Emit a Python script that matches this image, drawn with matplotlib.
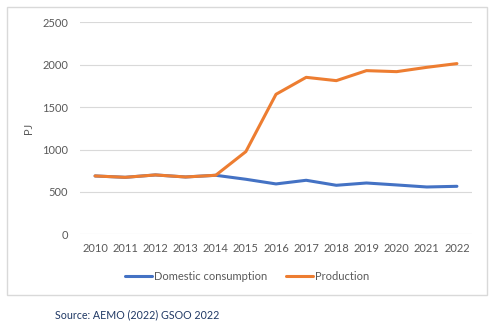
import matplotlib.pyplot as plt
from matplotlib.patches import Rectangle

years = [2010, 2011, 2012, 2013, 2014, 2015, 2016, 2017, 2018, 2019, 2020, 2021, 2022]
domestic = [688, 672, 700, 676, 696, 649, 594, 637, 578, 605, 582, 558, 566]
production = [688, 672, 700, 676, 696, 975, 1651, 1851, 1812, 1930, 1918, 1969, 2013]
yticks = [0, 500, 1000, 1500, 2000, 2500]

plt.rcParams['font.family'] = ['Lato', 'DejaVu Sans']

W, H = 491, 324
fig = plt.figure(figsize=(W / 100, H / 100), dpi=100)
ax = fig.add_axes([80 / W, 1 - 234.3 / H, (472 - 80) / W, (234.3 - 22.3) / H])

# chart border
fig.patches.append(Rectangle((7 / W, 1 - 295 / H), 480 / W, 288 / H,
                             transform=fig.transFigure, fill=False,
                             edgecolor='#d9d9d9', linewidth=1))

x = list(range(len(years)))
ax.plot(x, domestic, color='#4472C4', linewidth=2.2, label='Domestic consumption',
        solid_capstyle='round')
ax.plot(x, production, color='#ED7D31', linewidth=2.2, label='Production',
        solid_capstyle='round')

ax.set_xlim(-0.5, len(years) - 0.5)
ax.set_ylim(0, 2500)
ax.set_yticks(yticks)
ax.set_xticks(x)
ax.set_xticklabels([str(y) for y in years])
ax.grid(axis='y', color='#d9d9d9', linewidth=0.8)
ax.set_axisbelow(True)
for s in ax.spines.values():
    s.set_visible(False)
ax.tick_params(length=0, labelsize=8, colors='#595959', pad=6)
ax.tick_params(axis='y', pad=8.5)
ax.set_ylabel('PJ', fontsize=8, color='#595959', labelpad=6)

fig.legend(loc='center', bbox_to_anchor=(247 / W, 1 - 276 / H), ncol=2,
           frameon=False, fontsize=8, labelcolor='#595959', handlelength=2.4,
           handletextpad=0.2, columnspacing=1.7)

fig.text(55 / W, 1 - 315 / H, 'Source: AEMO (2022) GSOO 2022', fontsize=7.7,
         color='#1f3864', va='center', ha='left')

fig.savefig('out.png', dpi=100)
